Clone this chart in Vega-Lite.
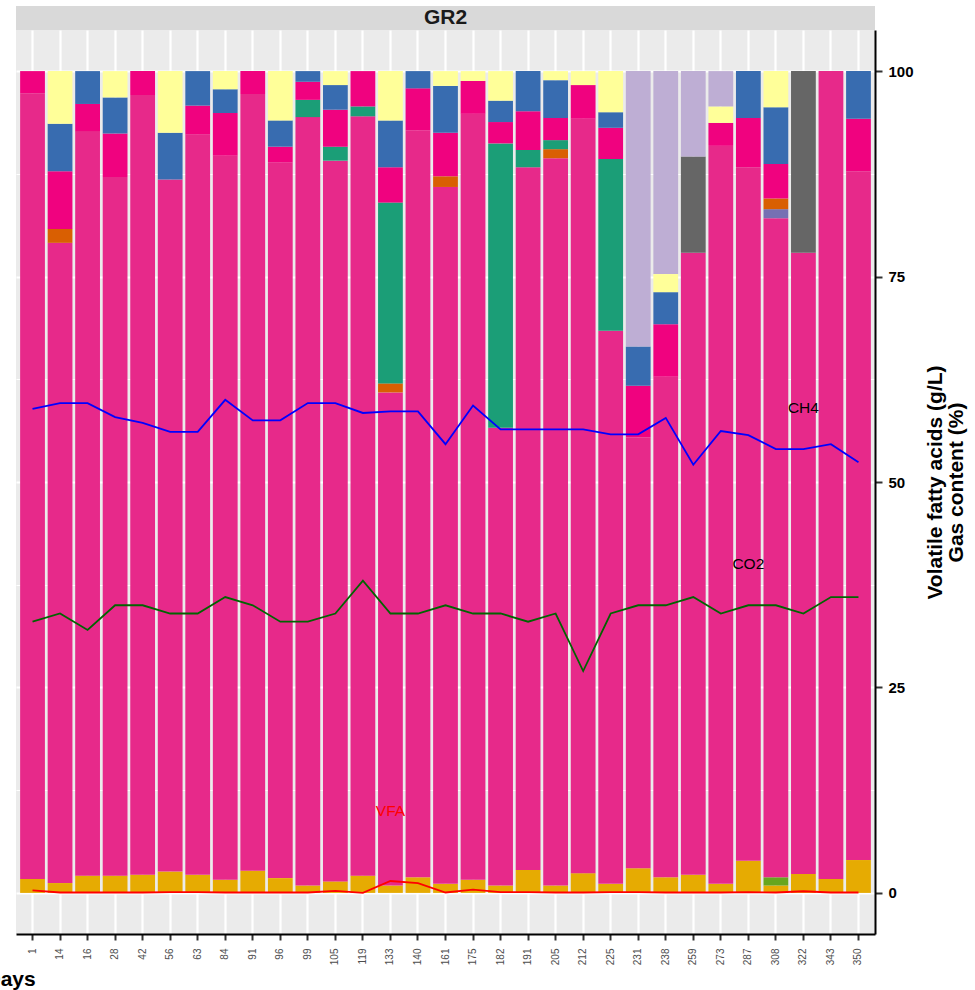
{
  "$schema": "https://vega.github.io/schema/vega-lite/v6.json",
  "width": 859,
  "height": 904,
  "autosize": {"type": "none"},
  "padding": {"left": 16, "top": 30, "right": 100, "bottom": 56},
  "background": "white",
  "config": {
    "view": {"fill": "#EBEBEB", "stroke": null},
    "font": "Liberation Sans"
  },
  "datasets": {
    "vfa": [
      {"day":1,"acid":"A01","pct":1.7},{"day":1,"acid":"A03","pct":95.6},{"day":1,"acid":"A07","pct":2.7},
      {"day":14,"acid":"A01","pct":1.2},{"day":14,"acid":"A03","pct":77.9},{"day":14,"acid":"A05","pct":1.7},{"day":14,"acid":"A07","pct":7.0},{"day":14,"acid":"A08","pct":5.8},{"day":14,"acid":"A09","pct":6.4},
      {"day":16,"acid":"A01","pct":2.1},{"day":16,"acid":"A03","pct":90.6},{"day":16,"acid":"A07","pct":3.3},{"day":16,"acid":"A08","pct":4.0},
      {"day":28,"acid":"A01","pct":2.1},{"day":28,"acid":"A03","pct":85.0},{"day":28,"acid":"A07","pct":5.3},{"day":28,"acid":"A08","pct":4.4},{"day":28,"acid":"A09","pct":3.2},
      {"day":42,"acid":"A01","pct":2.2},{"day":42,"acid":"A03","pct":94.9},{"day":42,"acid":"A07","pct":2.9},
      {"day":56,"acid":"A01","pct":2.6},{"day":56,"acid":"A03","pct":84.2},{"day":56,"acid":"A08","pct":5.7},{"day":56,"acid":"A09","pct":7.5},
      {"day":63,"acid":"A01","pct":2.2},{"day":63,"acid":"A03","pct":90.1},{"day":63,"acid":"A07","pct":3.5},{"day":63,"acid":"A08","pct":4.2},
      {"day":84,"acid":"A01","pct":1.6},{"day":84,"acid":"A03","pct":88.1},{"day":84,"acid":"A07","pct":5.2},{"day":84,"acid":"A08","pct":2.9},{"day":84,"acid":"A09","pct":2.2},
      {"day":91,"acid":"A01","pct":2.7},{"day":91,"acid":"A03","pct":94.5},{"day":91,"acid":"A07","pct":2.8},
      {"day":96,"acid":"A01","pct":1.8},{"day":96,"acid":"A03","pct":87.1},{"day":96,"acid":"A07","pct":1.9},{"day":96,"acid":"A08","pct":3.2},{"day":96,"acid":"A09","pct":6.0},
      {"day":99,"acid":"A01","pct":0.9},{"day":99,"acid":"A03","pct":93.5},{"day":99,"acid":"A06","pct":2.1},{"day":99,"acid":"A07","pct":2.2},{"day":99,"acid":"A08","pct":1.3},
      {"day":105,"acid":"A01","pct":1.4},{"day":105,"acid":"A03","pct":87.7},{"day":105,"acid":"A06","pct":1.7},{"day":105,"acid":"A07","pct":4.5},{"day":105,"acid":"A08","pct":3.0},{"day":105,"acid":"A09","pct":1.7},
      {"day":119,"acid":"A01","pct":2.1},{"day":119,"acid":"A03","pct":92.4},{"day":119,"acid":"A06","pct":1.2},{"day":119,"acid":"A07","pct":4.3},
      {"day":133,"acid":"A01","pct":0.9},{"day":133,"acid":"A03","pct":60.0},{"day":133,"acid":"A05","pct":1.1},{"day":133,"acid":"A06","pct":22.0},{"day":133,"acid":"A07","pct":4.3},{"day":133,"acid":"A08","pct":5.7},{"day":133,"acid":"A09","pct":6.0},
      {"day":140,"acid":"A01","pct":1.9},{"day":140,"acid":"A03","pct":90.9},{"day":140,"acid":"A07","pct":5.1},{"day":140,"acid":"A08","pct":2.1},
      {"day":161,"acid":"A01","pct":1.1},{"day":161,"acid":"A03","pct":84.8},{"day":161,"acid":"A05","pct":1.3},{"day":161,"acid":"A07","pct":5.3},{"day":161,"acid":"A08","pct":5.7},{"day":161,"acid":"A09","pct":1.8},
      {"day":175,"acid":"A01","pct":1.6},{"day":175,"acid":"A03","pct":93.2},{"day":175,"acid":"A07","pct":4.0},{"day":175,"acid":"A09","pct":1.2},
      {"day":182,"acid":"A01","pct":0.9},{"day":182,"acid":"A03","pct":55.7},{"day":182,"acid":"A06","pct":34.6},{"day":182,"acid":"A07","pct":2.6},{"day":182,"acid":"A08","pct":2.6},{"day":182,"acid":"A09","pct":3.6},
      {"day":191,"acid":"A01","pct":2.8},{"day":191,"acid":"A03","pct":85.5},{"day":191,"acid":"A06","pct":2.1},{"day":191,"acid":"A07","pct":4.7},{"day":191,"acid":"A08","pct":4.9},
      {"day":205,"acid":"A01","pct":0.9},{"day":205,"acid":"A03","pct":88.5},{"day":205,"acid":"A05","pct":1.1},{"day":205,"acid":"A06","pct":1.1},{"day":205,"acid":"A07","pct":2.7},{"day":205,"acid":"A08","pct":4.6},{"day":205,"acid":"A09","pct":1.1},
      {"day":212,"acid":"A01","pct":2.4},{"day":212,"acid":"A03","pct":91.8},{"day":212,"acid":"A07","pct":4.1},{"day":212,"acid":"A09","pct":1.7},
      {"day":225,"acid":"A01","pct":1.1},{"day":225,"acid":"A03","pct":67.3},{"day":225,"acid":"A06","pct":20.9},{"day":225,"acid":"A07","pct":3.8},{"day":225,"acid":"A08","pct":1.9},{"day":225,"acid":"A09","pct":5.0},
      {"day":231,"acid":"A01","pct":3.0},{"day":231,"acid":"A03","pct":52.4},{"day":231,"acid":"A07","pct":6.3},{"day":231,"acid":"A08","pct":4.8},{"day":231,"acid":"A11","pct":33.5},
      {"day":238,"acid":"A01","pct":1.9},{"day":238,"acid":"A03","pct":60.9},{"day":238,"acid":"A07","pct":6.4},{"day":238,"acid":"A08","pct":3.9},{"day":238,"acid":"A09","pct":2.2},{"day":238,"acid":"A11","pct":24.7},
      {"day":259,"acid":"A01","pct":2.2},{"day":259,"acid":"A03","pct":75.7},{"day":259,"acid":"A10","pct":11.7},{"day":259,"acid":"A11","pct":10.4},
      {"day":273,"acid":"A01","pct":1.1},{"day":273,"acid":"A03","pct":89.8},{"day":273,"acid":"A07","pct":2.8},{"day":273,"acid":"A09","pct":2.0},{"day":273,"acid":"A11","pct":4.3},
      {"day":287,"acid":"A01","pct":3.9},{"day":287,"acid":"A03","pct":84.4},{"day":287,"acid":"A07","pct":6.0},{"day":287,"acid":"A08","pct":5.7},
      {"day":308,"acid":"A01","pct":0.9},{"day":308,"acid":"A02","pct":1.0},{"day":308,"acid":"A03","pct":80.2},{"day":308,"acid":"A04","pct":1.1},{"day":308,"acid":"A05","pct":1.3},{"day":308,"acid":"A07","pct":4.2},{"day":308,"acid":"A08","pct":6.9},{"day":308,"acid":"A09","pct":4.4},
      {"day":322,"acid":"A01","pct":2.3},{"day":322,"acid":"A03","pct":75.6},{"day":322,"acid":"A10","pct":22.1},
      {"day":343,"acid":"A01","pct":1.7},{"day":343,"acid":"A03","pct":98.3},
      {"day":350,"acid":"A01","pct":4.0},{"day":350,"acid":"A03","pct":83.8},{"day":350,"acid":"A07","pct":6.4},{"day":350,"acid":"A08","pct":5.8}
    ],
    "gas": [
      {"day":1,"CH4":58.9,"CO2":33,"VFA":0.3},
      {"day":14,"CH4":59.6,"CO2":34,"VFA":0.05},
      {"day":16,"CH4":59.6,"CO2":32,"VFA":0.05},
      {"day":28,"CH4":57.9,"CO2":35,"VFA":0.05},
      {"day":42,"CH4":57.2,"CO2":35,"VFA":0.05},
      {"day":56,"CH4":56.1,"CO2":34,"VFA":0.1},
      {"day":63,"CH4":56.1,"CO2":34,"VFA":0.1},
      {"day":84,"CH4":60.0,"CO2":36,"VFA":0.05},
      {"day":91,"CH4":57.5,"CO2":35,"VFA":0.05},
      {"day":96,"CH4":57.5,"CO2":33,"VFA":0.05},
      {"day":99,"CH4":59.6,"CO2":33,"VFA":0.05},
      {"day":105,"CH4":59.6,"CO2":34,"VFA":0.25},
      {"day":119,"CH4":58.4,"CO2":38,"VFA":0.0},
      {"day":133,"CH4":58.6,"CO2":34,"VFA":1.45},
      {"day":140,"CH4":58.6,"CO2":34,"VFA":1.2},
      {"day":161,"CH4":54.6,"CO2":35,"VFA":0.05},
      {"day":175,"CH4":59.3,"CO2":34,"VFA":0.4},
      {"day":182,"CH4":56.4,"CO2":34,"VFA":0.1},
      {"day":191,"CH4":56.4,"CO2":33,"VFA":0.1},
      {"day":205,"CH4":56.4,"CO2":34,"VFA":0.05},
      {"day":212,"CH4":56.4,"CO2":27,"VFA":0.05},
      {"day":225,"CH4":55.8,"CO2":34,"VFA":0.1},
      {"day":231,"CH4":55.8,"CO2":35,"VFA":0.1},
      {"day":238,"CH4":57.8,"CO2":35,"VFA":0.05},
      {"day":259,"CH4":52.1,"CO2":36,"VFA":0.05},
      {"day":273,"CH4":56.2,"CO2":34,"VFA":0.05},
      {"day":287,"CH4":55.7,"CO2":35,"VFA":0.1},
      {"day":308,"CH4":54.0,"CO2":35,"VFA":0.05},
      {"day":322,"CH4":54.0,"CO2":34,"VFA":0.2},
      {"day":343,"CH4":54.6,"CO2":36,"VFA":0.05},
      {"day":350,"CH4":52.4,"CO2":36,"VFA":0.05}
    ]
  },
  "layer": [
    {
      "data": {"values": [{"panel": "GR2"}]},
      "mark": {"type": "rect", "color": "#D9D9D9"},
      "encoding": {
        "y": {"datum": 105, "type": "quantitative"},
        "y2": {"datum": 107.92}
      }
    },
    {
      "data": {"values": [{"panel": "GR2"}]},
      "mark": {"type": "text", "fontSize": 21, "fontWeight": "bold", "color": "#1A1A1A", "baseline": "middle", "align": "center"},
      "encoding": {
        "y": {"datum": 106.46, "type": "quantitative"},
        "text": {"field": "panel"}
      }
    },
    {
      "data": {"name": "vfa"},
      "mark": {"type": "bar"},
      "encoding": {
        "x": {
          "field": "day", "type": "ordinal",
          "scale": {"type": "band", "paddingInner": 0.1, "paddingOuter": 0.15},
          "axis": {
            "title": "Days", "titleFontSize": 21, "titleFontWeight": "bold", "titleColor": "black",
            "titleAlign": "left", "titleAnchor": "start", "titleX": -31, "titleY": 51.5, "titleBaseline": "alphabetic",
            "labelAngle": 270, "labelFontSize": 10, "labelColor": "#4D4D4D", "labelPadding": 8,
            "tickSize": 6, "tickWidth": 2, "tickColor": "#333333",
            "domainColor": "black", "domainWidth": 2,
            "grid": true, "gridColor": "white", "gridWidth": 2.2, "bandPosition": 0.5
          }
        },
        "y": {
          "field": "pct", "type": "quantitative", "stack": "zero",
          "scale": {"domain": [-5, 105], "nice": false, "zero": false},
          "axis": {
            "orient": "right",
            "values": [0, 12.5, 25, 37.5, 50, 62.5, 75, 87.5, 100],
            "labelExpr": "datum.value % 25 == 0 ? datum.label : ''",
            "labelOverlap": false,
            "grid": true, "gridColor": "white",
            "gridWidth": {"condition": {"test": "datum.value % 25 == 0", "value": 2.2}, "value": 1.1},
            "tickOpacity": {"condition": {"test": "datum.value % 25 == 0", "value": 1}, "value": 0},
            "tickSize": 7, "tickWidth": 2, "tickColor": "#333333",
            "domainColor": "black", "domainWidth": 2,
            "labelFontSize": 15, "labelFontWeight": "bold", "labelColor": "black", "labelPadding": 6,
            "title": ["Volatile fatty acids (g/L)", "Gas content (%)"],
            "titleAngle": 270, "titleFontSize": 21, "titleFontWeight": "bold", "titleColor": "black",
            "titleX": 66, "titleY": 452, "titleAlign": "center", "titleBaseline": "alphabetic",
            "titleLineHeight": 21.5, "titleLimit": 2000
          }
        },
        "color": {
          "field": "acid", "type": "nominal", "legend": null,
          "scale": {
            "domain": ["A01","A02","A03","A04","A05","A06","A07","A08","A09","A10","A11"],
            "range": ["#E6AB02","#66A61E","#E7298A","#7570B3","#D95F02","#1B9E77","#F0027F","#386CB0","#FFFF99","#666666","#BEAED4"]
          }
        },
        "order": {"field": "acid", "sort": "ascending"}
      }
    },
    {
      "data": {"name": "gas"},
      "mark": {"type": "line", "color": "#0000FF", "strokeWidth": 1.8},
      "encoding": {
        "x": {"field": "day", "type": "ordinal", "bandPosition": 0.5},
        "y": {"field": "CH4", "type": "quantitative"}
      }
    },
    {
      "data": {"name": "gas"},
      "mark": {"type": "line", "color": "#006400", "strokeWidth": 1.8},
      "encoding": {
        "x": {"field": "day", "type": "ordinal", "bandPosition": 0.5},
        "y": {"field": "CO2", "type": "quantitative"}
      }
    },
    {
      "data": {"name": "gas"},
      "mark": {"type": "line", "color": "#FF0000", "strokeWidth": 1.8},
      "encoding": {
        "x": {"field": "day", "type": "ordinal", "bandPosition": 0.5},
        "y": {"field": "VFA", "type": "quantitative"}
      }
    },
    {
      "data": {"values": [{"day": 322, "label": "CH4", "at": 59}, {"day": 287, "label": "CO2", "at": 40}]},
      "mark": {"type": "text", "fontSize": 15.5, "color": "black", "align": "center", "baseline": "middle"},
      "encoding": {
        "x": {"field": "day", "type": "ordinal", "bandPosition": 0.5},
        "y": {"field": "at", "type": "quantitative"},
        "text": {"field": "label"}
      }
    },
    {
      "data": {"values": [{"day": 133, "label": "VFA", "at": 10}]},
      "mark": {"type": "text", "fontSize": 15.5, "color": "#FF0000", "align": "center", "baseline": "middle"},
      "encoding": {
        "x": {"field": "day", "type": "ordinal", "bandPosition": 0.5},
        "y": {"field": "at", "type": "quantitative"},
        "text": {"field": "label"}
      }
    }
  ]
}
